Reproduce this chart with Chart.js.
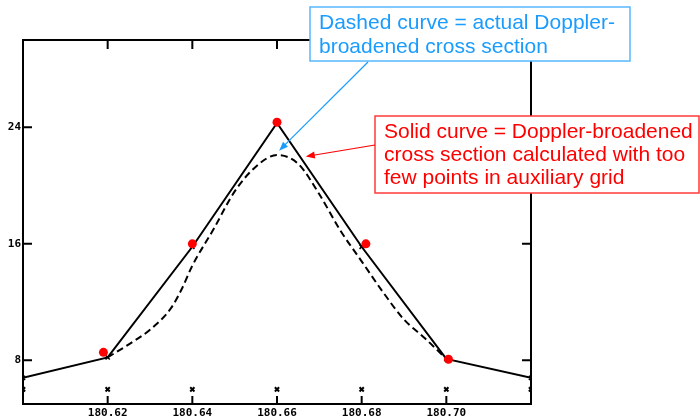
<!DOCTYPE html>
<html lang="en">
<head>
<meta charset="UTF-8">
<title>doppler</title>
<script src="https://cdn.jsdelivr.net/npm/chart.js"></script>
<style>
  body { margin: 0; background: #fff; }
  .box { position: relative; width: 700px; height: 419px; }
</style>
</head>
<body>
<div class="box"><canvas id="myChart"></canvas></div>
<script>
// axis ticks
const xTicks = [180.60, 180.62, 180.64, 180.66, 180.68, 180.70, 180.72];
const xTickLabels = ['', '180.62', '180.64', '180.66', '180.68', '180.70', ''];
const yTicks = [8, 16, 24];

// solid curve (too few points in auxiliary grid)
const solidX = [180.60, 180.62, 180.64, 180.66, 180.68, 180.70, 180.72];
const solidY = [6.8, 8.2, 15.8, 24.3, 15.8, 8.1, 6.8];

// dashed curve (actual broadened cross section), outer parts lie under the solid one
const dashedX = [180.62, 180.625, 180.63, 180.635, 180.6375, 180.64, 180.645, 180.65, 180.655, 180.66,
                 180.665, 180.67, 180.675, 180.68, 180.685, 180.69, 180.695, 180.70];
const dashedY = [8.2, 9.1, 10.1, 11.6, 12.9, 14.5, 17.0, 19.6, 21.3, 22.1,
                 21.5, 19.4, 16.9, 14.8, 12.7, 10.8, 9.5, 8.1];

// red dots
const redX = [180.619, 180.640, 180.660, 180.681, 180.7005];
const redY = [8.55, 16.0, 24.35, 16.0, 8.07];

// row of grid markers
const gridX = [180.60, 180.62, 180.64, 180.66, 180.68, 180.70, 180.72];
const gridY = [6.0, 6.0, 6.0, 6.0, 6.0, 6.0, 6.0];

function pts(xs, ys) {
  return xs.map((x, i) => ({ x: x, y: ys[i] }));
}

function arrow(ctx, x1, y1, x2, y2, color) {
  const a = Math.atan2(y2 - y1, x2 - x1);
  ctx.strokeStyle = color;
  ctx.fillStyle = color;
  ctx.lineWidth = 1.2;
  ctx.beginPath();
  ctx.moveTo(x1, y1);
  ctx.lineTo(x2 - 6 * Math.cos(a), y2 - 6 * Math.sin(a));
  ctx.stroke();
  ctx.beginPath();
  ctx.moveTo(x2, y2);
  ctx.lineTo(x2 - 9 * Math.cos(a) + 3.5 * Math.sin(a), y2 - 9 * Math.sin(a) - 3.5 * Math.cos(a));
  ctx.lineTo(x2 - 9 * Math.cos(a) - 3.5 * Math.sin(a), y2 - 9 * Math.sin(a) + 3.5 * Math.cos(a));
  ctx.closePath();
  ctx.fill();
}

function textBox(ctx, x, y, w, h, lines, color, border, lineH) {
  ctx.fillStyle = '#fff';
  ctx.fillRect(x, y, w, h);
  ctx.strokeStyle = border;
  ctx.lineWidth = 1.5;
  ctx.strokeRect(x, y, w, h);
  ctx.fillStyle = color;
  ctx.font = '21px "Liberation Sans", Arial, sans-serif';
  ctx.textBaseline = 'alphabetic';
  ctx.textAlign = 'left';
  lines.forEach((t, i) => ctx.fillText(t, x + 9, y + 22 + i * lineH));
}

const framePlugin = {
  id: 'frame',
  afterDraw(chart) {
    const ctx = chart.ctx;
    const a = chart.chartArea;
    const xs = chart.scales.x, ys = chart.scales.y;
    ctx.save();
    ctx.strokeStyle = '#000';
    ctx.lineWidth = 2;
    ctx.strokeRect(a.left, a.top, a.right - a.left, a.bottom - a.top);
    ctx.beginPath();
    xTicks.slice(1, -1).forEach(v => {
      const px = xs.getPixelForValue(v);
      ctx.moveTo(px, a.top); ctx.lineTo(px, a.top + 9);
      ctx.moveTo(px, a.bottom); ctx.lineTo(px, a.bottom - 8);
    });
    yTicks.forEach(v => {
      const py = ys.getPixelForValue(v);
      ctx.moveTo(a.left, py); ctx.lineTo(a.left + 9, py);
      ctx.moveTo(a.right, py); ctx.lineTo(a.right - 9, py);
    });
    ctx.stroke();

    // notes
    textBox(ctx, 310, 7, 320, 54, ['Dashed curve = actual Doppler-', 'broadened cross section'],
      '#1a9cff', '#55b8ff', 24);
    textBox(ctx, 375, 116, 324, 77, ['Solid curve = Doppler-broadened', 'cross section calculated with too', 'few points in auxiliary grid'],
      '#ff0000', '#ff3b3b', 23);
    arrow(ctx, 368, 62, xs.getPixelForValue(180.6605), ys.getPixelForValue(22.4), '#1a9cff');
    arrow(ctx, 375, 145, xs.getPixelForValue(180.6668), ys.getPixelForValue(22.0), '#ff0000');
    ctx.restore();
  }
};

const ctx = document.getElementById('myChart');
new Chart(ctx, {
  type: 'scatter',
  data: {
    datasets: [
      {
        label: 'points',
        data: pts(redX, redY),
        pointStyle: 'circle',
        pointRadius: 4.5,
        backgroundColor: '#ff0000',
        borderColor: '#ff0000',
        borderWidth: 0,
        order: 0
      },
      {
        label: 'solid',
        data: pts(solidX, solidY),
        showLine: true,
        borderColor: '#000',
        borderWidth: 2,
        pointStyle: 'crossRot',
        pointRadius: 3,
        pointBorderWidth: 1.5,
        pointBorderColor: '#000',
        order: 1
      },
      {
        label: 'dashed',
        data: pts(dashedX, dashedY),
        showLine: true,
        borderColor: '#000',
        borderWidth: 2,
        borderDash: [7, 4],
        cubicInterpolationMode: 'monotone',
        pointRadius: 0,
        order: 2
      },
      {
        label: 'grid',
        data: pts(gridX, gridY),
        pointStyle: 'crossRot',
        pointRadius: 3,
        borderWidth: 2,
        borderColor: '#000',
        order: 3
      }
    ]
  },
  options: {
    responsive: true,
    maintainAspectRatio: false,
    animation: false,
    layout: { padding: { top: 40, right: 169, left: 0, bottom: 0 } },
    plugins: { legend: { display: false }, tooltip: { enabled: false } },
    scales: {
      x: {
        type: 'linear',
        min: 180.60,
        max: 180.72,
        afterFit: s => { s.height = 15; },
        afterBuildTicks: s => { s.ticks = xTicks.map(v => ({ value: v })); },
        grid: { display: false, drawTicks: false },
        border: { display: false },
        ticks: {
          padding: 3,
          color: '#000',
          maxRotation: 0,
          autoSkip: false,
          font: { family: '"DejaVu Sans Mono", monospace', size: 11, weight: 'bold' },
          callback: (v, i) => xTickLabels[i]
        }
      },
      y: {
        min: 5,
        max: 30,
        afterFit: s => { s.width = 23; },
        afterBuildTicks: s => { s.ticks = yTicks.map(v => ({ value: v })); },
        grid: { display: false, drawTicks: false },
        border: { display: false },
        ticks: {
          padding: 2,
          color: '#000',
          autoSkip: false,
          font: { family: '"DejaVu Sans Mono", monospace', size: 11, weight: 'bold' }
        }
      }
    }
  },
  plugins: [framePlugin]
});
</script>
</body>
</html>
